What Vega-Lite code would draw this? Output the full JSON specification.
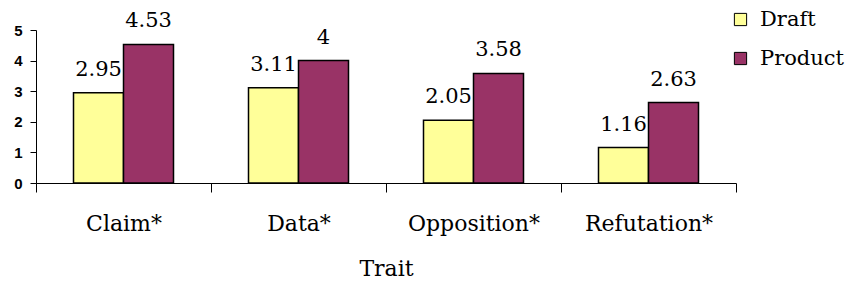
{
  "$schema": "https://vega.github.io/schema/vega-lite/v6.json",
  "width": 700,
  "height": 153,
  "autosize": {"type": "none"},
  "padding": {"left": 36, "top": 30, "right": 109, "bottom": 101},
  "background": "white",
  "data": {"values": [
    {"trait": "Claim*", "stage": "Draft", "score": 2.95},
    {"trait": "Claim*", "stage": "Product", "score": 4.53},
    {"trait": "Data*", "stage": "Draft", "score": 3.11},
    {"trait": "Data*", "stage": "Product", "score": 4},
    {"trait": "Opposition*", "stage": "Draft", "score": 2.05},
    {"trait": "Opposition*", "stage": "Product", "score": 3.58},
    {"trait": "Refutation*", "stage": "Draft", "score": 1.16},
    {"trait": "Refutation*", "stage": "Product", "score": 2.63}
  ]},
  "config": {
    "view": {"stroke": null}
  },
  "encoding": {
    "x": {
      "field": "trait", "type": "nominal", "sort": null,
      "scale": {"paddingInner": 0, "paddingOuter": 0},
      "axis": {
        "title": "Trait", "labelAngle": 0, "tickBand": "extent",
        "domainColor": "black", "tickColor": "black", "tickSize": 9,
        "labelFont": "DejaVu Serif", "labelFontSize": 22, "labelColor": "black",
        "labelPadding": 21,
        "titleFont": "DejaVu Serif", "titleFontSize": 22, "titleFontWeight": "normal",
        "titleColor": "black", "titlePadding": 24
      }
    },
    "xOffset": {
      "field": "stage", "type": "nominal",
      "scale": {"paddingInner": 0, "paddingOuter": 0.75}
    },
    "y": {
      "field": "score", "type": "quantitative",
      "scale": {"domain": [0, 5], "nice": false},
      "axis": {
        "title": null, "values": [0, 1, 2, 3, 4, 5], "grid": false,
        "domainColor": "black", "tickColor": "black", "tickSize": 6,
        "labelFont": "Liberation Sans", "labelFontWeight": "bold", "labelFontSize": 15,
        "labelColor": "black", "labelPadding": 8
      }
    }
  },
  "layer": [
    {
      "mark": {"type": "bar", "stroke": "black", "strokeWidth": 1.5},
      "encoding": {
        "color": {
          "field": "stage", "type": "nominal",
          "scale": {"domain": ["Draft", "Product"], "range": ["#FFFF99", "#993366"]},
          "legend": {
            "title": null, "orient": "none", "legendX": 694, "legendY": -21,
            "symbolType": "square", "symbolSize": 150, "symbolStrokeColor": "black",
            "symbolStrokeWidth": 1, "labelFont": "DejaVu Serif", "labelFontSize": 21,
            "labelColor": "black", "labelOffset": 9, "rowPadding": 17
          }
        }
      }
    },
    {
      "mark": {"type": "text", "baseline": "alphabetic", "dy": -17, "fontSize": 21, "font": "DejaVu Serif", "color": "black"},
      "encoding": {
        "text": {"field": "score", "type": "quantitative"}
      }
    }
  ]
}
